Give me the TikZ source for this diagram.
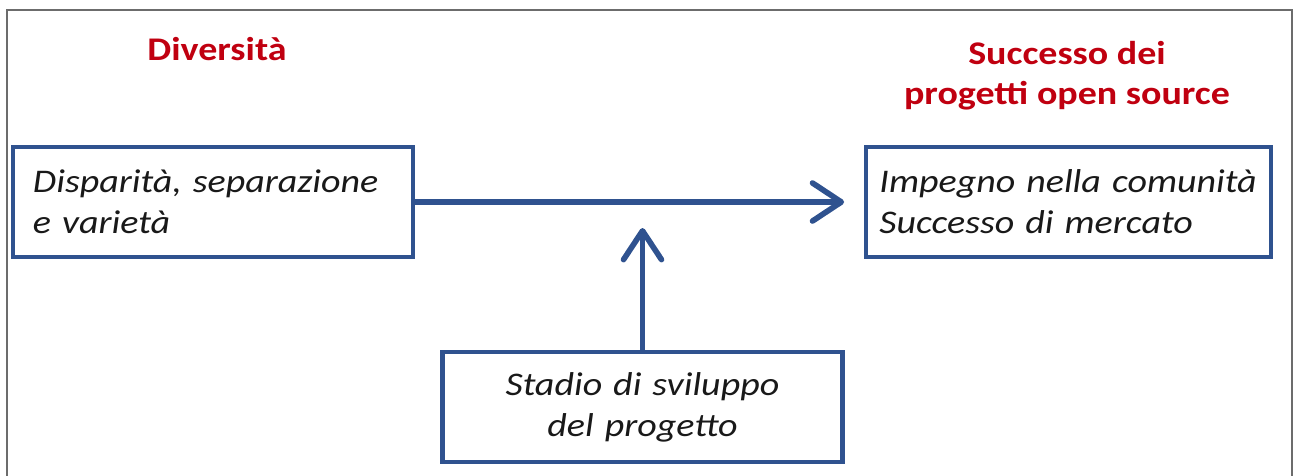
\documentclass[tikz,border=0pt]{standalone}
\usepackage{fontspec}
\setmainfont{Carlito}[FakeStretch=1.15]
\usetikzlibrary{arrows.meta}
\definecolor{boxblue}{RGB}{47,82,143}
\definecolor{titred}{RGB}{192,0,16}
\begin{document}
\begin{tikzpicture}[
        x=0.025cm,y=-0.025cm,
        bsty/.style={
            draw=boxblue,line width=3pt,fill=white,
            minimum height=2.75cm,inner ysep=0pt,
            font=\fontsize{23.5}{29}\selectfont\itshape,
            text=black!90,
        },
        tsty/.style={
            align=center,text=titred,
            font=\fontsize{23.5}{28.5}\selectfont\bfseries,
        },
        asty/.style={
            draw=boxblue,line width=4pt,
            -{Straight Barb[length=0.72cm,width=0.95cm,round]},
        },
    ]
    \useasboundingbox (0,0) rectangle (1293,475);
    \draw[gray!85!black,line width=1.6pt] (7,480) -- (7,10) -- (1292,10) -- (1292,480);

    \node[tsty,anchor=base] at (217,60) (tdiv) {Diversità};
    \node[tsty] at (1067,76) (tsuc) {Successo dei\\progetti open source};

    \node[bsty,text width=9cm,inner xsep=0.5cm,align=left] at (213,202) (dis)
        {Disparità, separazione\\e varietà};
    \node[bsty,text width=9.45cm,inner xsep=0.33cm,align=left] at (1068.5,202) (suc)
        {Impegno nella comunità\\Successo di mercato};
    \node[bsty,text width=9cm,inner xsep=0.5cm,align=center] at (642.5,407) (sta)
        {Stadio di sviluppo\\del progetto};
    \coordinate (mid) at (sta.north |- 0,228);

    \draw[asty,shorten >=0.5cm] (dis.east) -- (suc.west);
    \draw[asty] (sta.north) -- (mid);
\end{tikzpicture}
\end{document}
